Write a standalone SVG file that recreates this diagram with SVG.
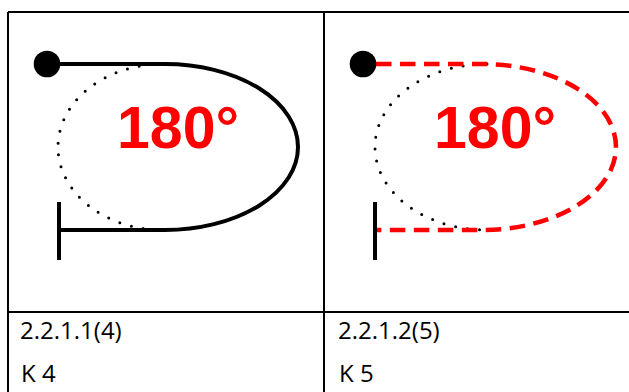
<svg xmlns="http://www.w3.org/2000/svg" width="629" height="392" viewBox="0 0 629 392">
<style>
.grid{stroke:#000;stroke-width:2;fill:none}
.solid{stroke:#000;stroke-width:4;fill:none}
.dash{stroke:#FF0000;stroke-width:4.5;fill:none;stroke-dasharray:15.5 8.5}
.dots{stroke:#000;stroke-width:3;fill:none;stroke-linecap:round;stroke-dasharray:0 12}
.bar{stroke:#000;stroke-width:4;fill:none}
.deg{font-family:"Liberation Sans",Arial,sans-serif;font-weight:bold;font-size:59px;fill:#FF0000}
.cap{font-family:"Open Sans","Liberation Sans",sans-serif;font-size:24px;fill:#000}
</style>
<rect width="629" height="392" fill="#fff"/>
<g id="table">
<path class="grid" d="M8 12H629M8 312H629M8 12V392M324 12V392"/>
</g>
<g id="panel-k4">
<path class="dots" d="M163 64A105 83 0 0 0 163 230"/>
<path class="solid" d="M47 64H165A133 83 0 0 1 165 230H59"/>
<path class="bar" d="M59 202V260"/>
<circle cx="47" cy="64" r="13.3" fill="#000"/>
<text class="deg" x="117" y="148">180°</text>
</g>
<g id="panel-k5">
<path class="dots" d="M487 64A112 83 0 0 0 487 230"/>
<path class="dash" d="M376 64H482A134 83 0 0 1 482 230H375"/>
<path class="bar" d="M375 202V260"/>
<circle cx="363" cy="64" r="13.3" fill="#000"/>
<text class="deg" x="434" y="148">180°</text>
</g>
<g id="labels">
<text class="cap" x="20" y="339">2.2.1.1(4)</text>
<text class="cap" x="21" y="382">K 4</text>
<text class="cap" x="338" y="339">2.2.1.2(5)</text>
<text class="cap" x="339" y="382">K 5</text>
</g>
</svg>
